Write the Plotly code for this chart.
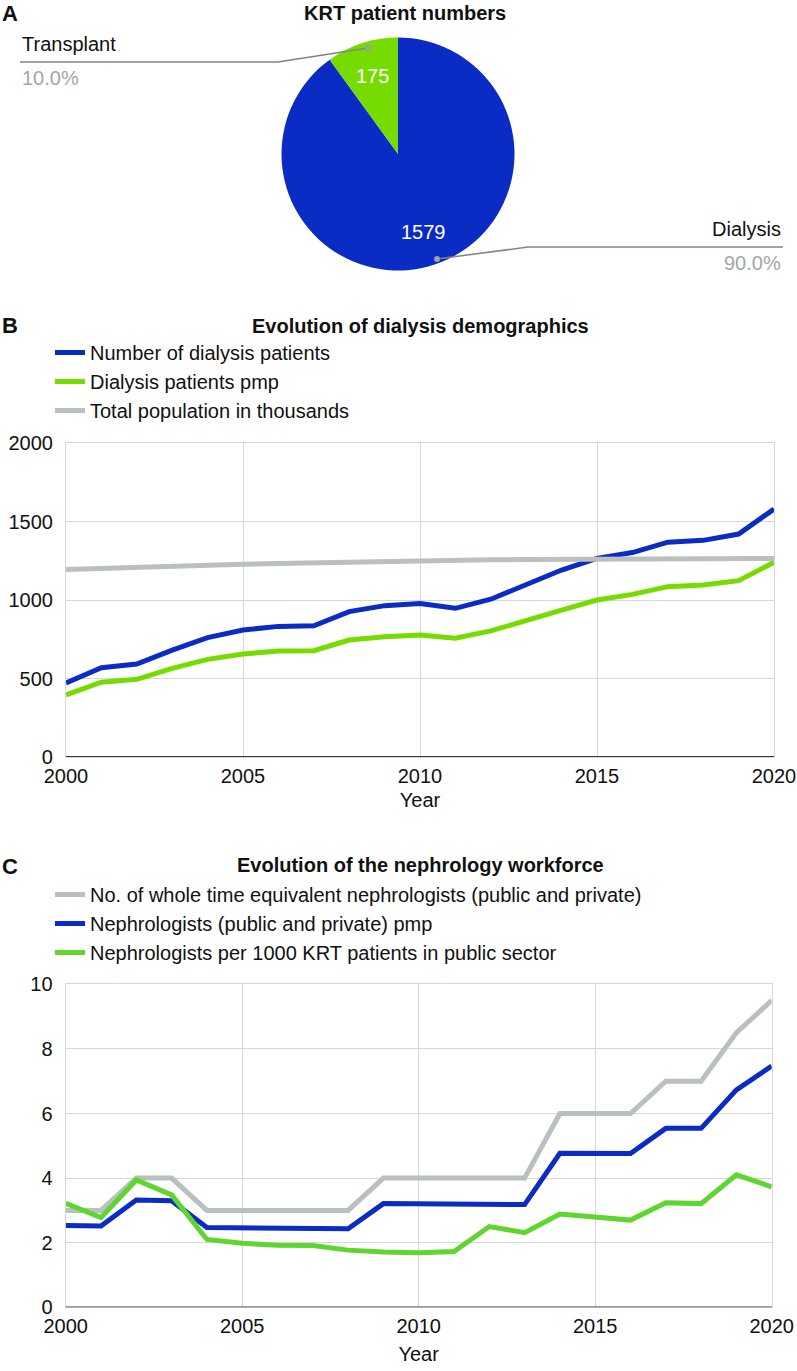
import math
import plotly.graph_objects as go

W, H = 797, 1371

# ---------------- data ----------------
krt_labels = ["Dialysis", "Transplant"]
krt_values = [1579, 175]

years = list(range(2000, 2021))
dialysis_patients = [472, 569, 592, 681, 760, 809, 832, 836, 926, 964, 977,
                     947, 1005, 1102, 1191, 1265, 1302, 1368, 1380, 1420, 1579]
dialysis_pmp = [395, 476, 495, 565, 622, 656, 675, 677, 745, 766, 777,
                756, 803, 873, 936, 1000, 1036, 1085, 1096, 1123, 1240]
population_k = [1195, 1203, 1210, 1216, 1222, 1228, 1233, 1238, 1242, 1246, 1250,
                1253, 1256, 1258, 1260, 1262, 1263, 1264, 1265, 1265, 1265]

wte_nephrologists = [3, 3, 4, 4, 3, 3, 3, 3, 3, 4, 4, 4, 4, 4, 6, 6, 6, 7, 7, 8.5, 9.5]
nephrologists_pmp = [2.53, 2.52, 3.32, 3.30, 2.47, 2.46, 2.45, 2.44, 2.43, 3.21, 3.21,
                     3.20, 3.19, 3.18, 4.77, 4.76, 4.76, 5.54, 5.54, 6.73, 7.47]
neph_per_1000_krt = [3.22, 2.78, 3.94, 3.48, 2.10, 1.98, 1.92, 1.91, 1.77, 1.71, 1.69,
                     1.73, 2.50, 2.31, 2.89, 2.78, 2.70, 3.24, 3.21, 4.10, 3.73]

# ---------------- style ----------------
BLUE = "#0A2BC4"
GREEN_A = "#76DC00"
GREEN_C = "#5FD52F"
GRAY = "#BAC0BD"
GRID = "#D4D9D7"
FONT = "Liberation Sans, Arial, Helvetica, sans-serif"
TXT = "#111111"


def px(x):
    return x / W


def py(y):
    return 1 - y / H


fig = go.Figure()

# ---------------- Panel A: pie ----------------
PIE_CX, PIE_CY, PIE_R = 398, 154, 116.5
fig.add_trace(go.Pie(
    labels=krt_labels, values=krt_values, sort=False, direction="clockwise",
    rotation=0, marker=dict(colors=[BLUE, GREEN_A], line=dict(width=0)),
    textinfo="none",
    domain=dict(x=[px(PIE_CX - PIE_R), px(PIE_CX + PIE_R)],
                y=[py(PIE_CY + PIE_R), py(PIE_CY - PIE_R)]),
    showlegend=False, hoverinfo="label+value+percent",
))

# ---------------- Panel B ----------------
for name, vals, col in [("Number of dialysis patients", dialysis_patients, BLUE),
                        ("Dialysis patients pmp", dialysis_pmp, GREEN_A),
                        ("Total population in thousands", population_k, GRAY)]:
    fig.add_trace(go.Scatter(x=years, y=vals, name=name, mode="lines",
                             line=dict(color=col, width=5), xaxis="x", yaxis="y",
                             legend="legend"))

# ---------------- Panel C ----------------
for name, vals, col in [("No. of whole time equivalent nephrologists (public and private)", wte_nephrologists, GRAY),
                        ("Nephrologists (public and private) pmp", nephrologists_pmp, BLUE),
                        ("Nephrologists per 1000 KRT patients in public sector", neph_per_1000_krt, GREEN_C)]:
    fig.add_trace(go.Scatter(x=years, y=vals, name=name, mode="lines",
                             line=dict(color=col, width=5), xaxis="x2", yaxis="y2",
                             legend="legend2"))

axis_common = dict(showgrid=True, gridcolor=GRID, gridwidth=1.2, zeroline=False,
                   showline=True, linecolor=GRID, linewidth=1.2, mirror=True,
                   ticks="", automargin=False,
                   tickfont=dict(size=20, color=TXT, family=FONT))

fig.update_layout(
    width=W, height=H, margin=dict(l=0, r=0, t=0, b=0, autoexpand=False),
    paper_bgcolor="white", plot_bgcolor="white",
    font=dict(family=FONT, size=20, color=TXT),
    xaxis=dict(domain=[px(66), px(774)], range=[2000, 2020], dtick=5, tick0=2000,
               anchor="y", title=dict(text="Year", font=dict(size=20), standoff=6),
               ticklabelstandoff=1, **axis_common),
    yaxis=dict(domain=[py(757), py(443)], range=[0, 2000], dtick=500, anchor="x",
               ticklabelstandoff=8, **axis_common),
    xaxis2=dict(domain=[px(65.7), px(771.7)], range=[2000, 2020], dtick=5, tick0=2000,
                anchor="y2", title=dict(text="Year", font=dict(size=20), standoff=10),
                ticklabelstandoff=1, **axis_common),
    yaxis2=dict(domain=[py(1307.3), py(984.3)], range=[0, 10], dtick=2, anchor="x2",
                ticklabelstandoff=8, **axis_common),
    legend=dict(x=px(50), y=py(333), xanchor="left", yanchor="top",
                itemwidth=30, font=dict(size=20, color=TXT), bgcolor="rgba(0,0,0,0)",
                tracegroupgap=0),
    legend2=dict(x=px(50), y=py(875), xanchor="left", yanchor="top",
                 itemwidth=30, font=dict(size=20, color=TXT), bgcolor="rgba(0,0,0,0)",
                 tracegroupgap=0),
)

# dark bottom axis lines
fig.add_shape(type="line", xref="x domain", yref="y", x0=0, x1=1, y0=0, y1=0,
              line=dict(color="#3A3A3A", width=1.8))
fig.add_shape(type="line", xref="x2 domain", yref="y2", x0=0, x1=1, y0=0, y1=0,
              line=dict(color="#3A3A3A", width=1.8))

# ---------------- annotations ----------------
ann = []


def text(x, y, s, size=20, color=TXT, anchor="left", bold=False):
    ann.append(dict(x=px(x), y=py(y), xref="paper", yref="paper", text=(f"<b>{s}</b>" if bold else s),
                    showarrow=False, xanchor=anchor, yanchor="middle",
                    font=dict(size=size, color=color, family=FONT)))


text(0, 14, "A", size=22, bold=True)
text(405, 13, "KRT patient numbers", bold=True, anchor="center")
text(0, 325, "B", size=22, bold=True)
text(420, 326, "Evolution of dialysis demographics", bold=True, anchor="center")
text(0, 866, "C", size=22, bold=True)
text(420, 865, "Evolution of the nephrology workforce", bold=True, anchor="center")

total = sum(krt_values)
pcts = [v / total * 100 for v in krt_values]

# slice value labels at 70% radius along each slice's mid angle (clockwise from top)
cum = 0.0
for v in krt_values:
    mid = (cum + v / 2) / total * 2 * math.pi
    cum += v
    lx = PIE_CX + 0.70 * PIE_R * math.sin(mid)
    ly = PIE_CY - 0.70 * PIE_R * math.cos(mid)
    text(lx, ly, str(v), color="white", anchor="center")

LBL_GRAY = "#A0A8A5"
text(20, 44, krt_labels[1])
text(20, 78, f"{pcts[1]:.1f}%", color=LBL_GRAY)
text(783, 229, krt_labels[0], anchor="right")
text(783, 263, f"{pcts[0]:.1f}%", color=LBL_GRAY, anchor="right")

fig.update_layout(annotations=ann)

LEADER = "#7E8683"
fig.add_shape(type="path", xref="paper", yref="paper",
              path=f"M {px(20)},{py(62)} L {px(278)},{py(62)} L {px(368)},{py(48)}",
              line=dict(color=LEADER, width=1.5))
fig.add_shape(type="path", xref="paper", yref="paper",
              path=f"M {px(783)},{py(247)} L {px(528)},{py(247)} L {px(437)},{py(259)}",
              line=dict(color=LEADER, width=1.5))
for (cx, cy) in [(368, 48), (437, 259)]:
    fig.add_shape(type="circle", xref="paper", yref="paper",
                  x0=px(cx - 3), x1=px(cx + 3), y0=py(cy + 3), y1=py(cy - 3),
                  fillcolor="#9AA19E", line=dict(width=0))

fig.write_html("out.html", config={"displayModeBar": False},
               post_script="document.body.style.margin='0';document.body.style.overflow='hidden';")
